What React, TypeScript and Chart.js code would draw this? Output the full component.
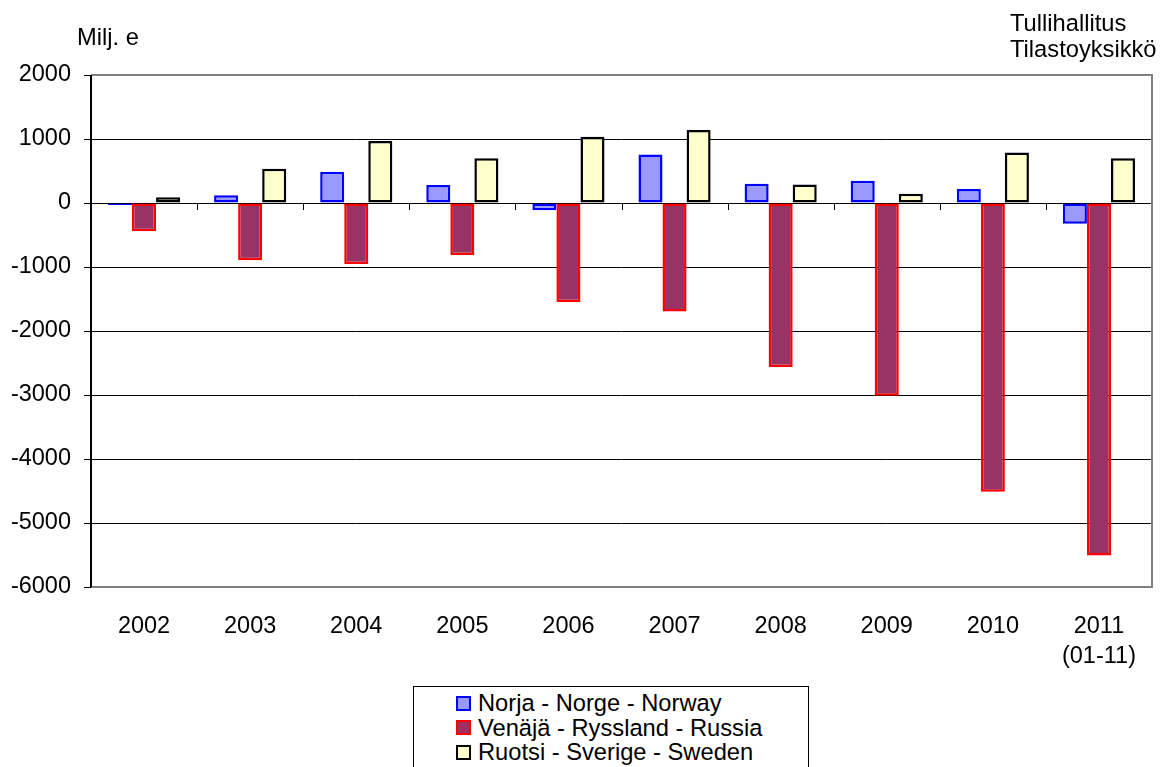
import React, { useEffect, useRef } from "react";
import { Chart, registerables } from "chart.js";

Chart.register(...registerables);

const categories: (string | string[])[] = [
  "2002", "2003", "2004", "2005", "2006", "2007", "2008", "2009", "2010", ["2011", "(01-11)"],
];
const norway = [-30, 120, 487, 280, -114, 756, 300, 347, 218, -326];
const russia = [-440, -896, -953, -813, -1547, -1694, -2562, -3011, -4511, -5506];
const sweden = [88, 534, 969, 700, 1036, 1140, 290, 145, 788, 700];
const seriesNames = ["Norja - Norge - Norway", "Venäjä - Ryssland - Russia", "Ruotsi - Sverige - Sweden"];
const yMin = -6000;
const yMax = 2000;
const yStep = 1000;
const unitLabel = "Milj. e";
const sourceLines = ["Tullihallitus", "Tilastoyksikkö"];

const FONT = "'Liberation Sans', Arial, sans-serif";
const fills = ["#9999FF", "#993366", "#FFFFCC"];
const borders = ["#0000FF", "#FF0000", "#000000"];

const frame = {
  id: "frame",
  afterDraw(chart: any) {
    const { ctx, chartArea } = chart;
    const x = chart.scales.x;
    const y = chart.scales.y;
    const y0 = y.getPixelForValue(0);
    const n = categories.length;
    ctx.save();
    ctx.strokeStyle = "#000";
    ctx.lineWidth = 1;
    ctx.beginPath();
    for (let i = 1; i < n; i++) {
      const px = Math.round(x.left + (i * x.width) / n) + 0.5;
      ctx.moveTo(px, y0);
      ctx.lineTo(px, y0 + 7);
    }
    ctx.stroke();
    ctx.strokeStyle = "#808080";
    ctx.lineWidth = 2;
    ctx.beginPath();
    ctx.moveTo(chartArea.left, chartArea.top);
    ctx.lineTo(chartArea.right, chartArea.top);
    ctx.lineTo(chartArea.right, chartArea.bottom);
    ctx.lineTo(chartArea.left, chartArea.bottom);
    ctx.stroke();
    ctx.strokeStyle = "#000";
    ctx.beginPath();
    ctx.moveTo(chartArea.left, chartArea.top);
    ctx.lineTo(chartArea.left, chartArea.bottom);
    ctx.stroke();
    ctx.restore();
  },
};

export default function App() {
  const ref = useRef<HTMLCanvasElement>(null);

  useEffect(() => {
    document.body.style.margin = "0";
    const series = [norway, russia, sweden];
    const chart = new Chart(ref.current!, {
      type: "bar",
      data: {
        labels: categories,
        datasets: series.map((d, i) => ({
          label: seriesNames[i],
          data: d,
          backgroundColor: fills[i],
          borderColor: borders[i],
          borderWidth: 2.5,
          borderSkipped: false,
          categoryPercentage: 0.68,
          barPercentage: 1,
        })),
      },
      options: {
        animation: false,
        responsive: false,
        maintainAspectRatio: false,
        layout: { padding: { top: 75, right: 12, left: 0, bottom: 0 } },
        plugins: { legend: { display: false }, tooltip: { enabled: false } },
        scales: {
          x: {
            grid: { display: false, drawTicks: false },
            border: { display: false },
            ticks: {
              color: "#000",
              padding: 24,
              maxRotation: 0,
              autoSkip: false,
              font: { family: FONT, size: 23.5, lineHeight: 1.28 },
            },
            afterFit(scale: any) {
              scale.height = 180;
            },
          },
          y: {
            min: yMin,
            max: yMax,
            grid: { color: "#000", lineWidth: 1, drawTicks: true, tickLength: 7, tickColor: "#000" },
            border: { display: false },
            ticks: {
              stepSize: yStep,
              color: "#000",
              padding: 13,
              font: { family: FONT, size: 23.5 },
              callback: (v: any) => String(v),
            },
            afterFit(scale: any) {
              scale.width = 91;
            },
          },
        },
      },
      plugins: [frame],
    });
    return () => chart.destroy();
  }, []);

  const textStyle: React.CSSProperties = {
    position: "absolute",
    fontFamily: FONT,
    fontSize: 23.7,
    color: "#000",
    whiteSpace: "nowrap",
  };

  return (
    <div style={{ position: "relative", width: 1164, height: 767, overflow: "hidden", background: "#fff" }}>
      <canvas ref={ref} width={1164} height={767} style={{ position: "absolute", left: 0, top: 0 }} />
      <div style={{ ...textStyle, left: 77, top: 26, lineHeight: "23px" }}>{unitLabel}</div>
      <div style={{ ...textStyle, left: 1010, top: 11, lineHeight: "25.6px" }}>
        {sourceLines.map((s) => (
          <div key={s}>{s}</div>
        ))}
      </div>
      <div
        style={{
          position: "absolute",
          left: 413,
          top: 686,
          width: 396,
          height: 100,
          border: "1px solid #000",
          boxSizing: "border-box",
          background: "#fff",
          paddingTop: 4,
          paddingLeft: 42,
        }}
      >
        {seriesNames.map((s, i) => (
          <div
            key={s}
            style={{
              display: "flex",
              alignItems: "center",
              height: 24.5,
              fontFamily: FONT,
              fontSize: 23.7,
              lineHeight: "24.5px",
              whiteSpace: "nowrap",
            }}
          >
            <span
              style={{
                display: "inline-block",
                width: 15,
                height: 15,
                boxSizing: "border-box",
                border: `2px solid ${borders[i]}`,
                background: fills[i],
                marginRight: 7,
              }}
            />
            <span>{s}</span>
          </div>
        ))}
      </div>
    </div>
  );
}
